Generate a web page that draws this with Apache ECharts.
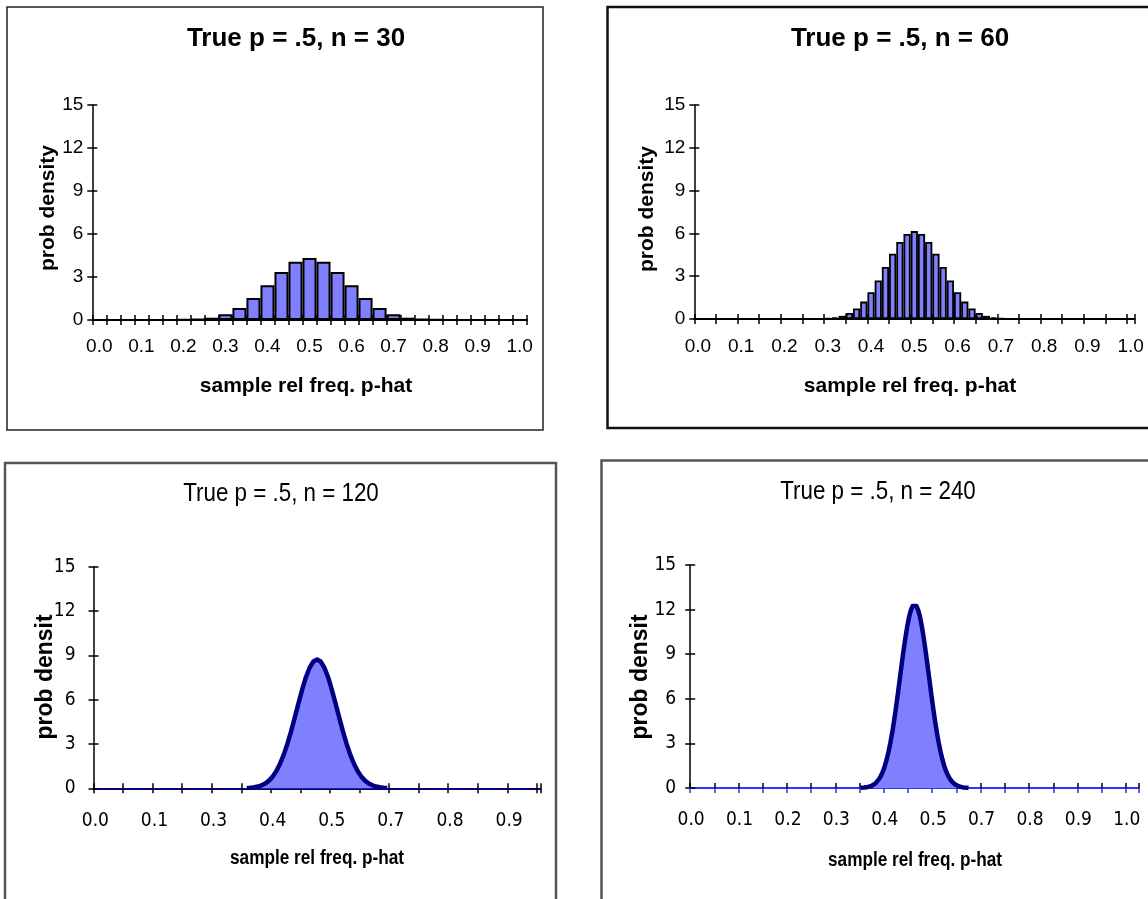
<!DOCTYPE html>
<html>
<head>
<meta charset="utf-8">
<title>Sampling distribution of p-hat</title>
<script src="https://cdn.jsdelivr.net/npm/echarts@6.0.0/dist/echarts.min.js"></script>
<style>
  html, body { margin: 0; padding: 0; background: #fff; }
  #main { width: 1148px; height: 899px; }
</style>
</head>
<body>
<div id="main"></div>
<script>
// prob density of p-hat (n * P(X = k))
const n30Density = [0, 0, 0, 0, 0, 0, 0.02, 0.06, 0.16, 0.40, 0.84, 1.53, 2.42, 3.35, 4.06, 4.33,
  4.06, 3.35, 2.42, 1.53, 0.84, 0.40, 0.16, 0.06, 0.02, 0, 0, 0, 0, 0, 0];

const n60Density = [0, 0, 0, 0, 0, 0, 0, 0, 0, 0, 0, 0, 0, 0, 0, 0,
  0.01, 0.02, 0.05, 0.11, 0.22, 0.42, 0.74, 1.22, 1.88, 2.70, 3.64, 4.58, 5.40, 5.96, 6.16,
  5.96, 5.40, 4.58, 3.64, 2.70, 1.88, 1.22, 0.74, 0.42, 0.22, 0.11, 0.05, 0.02, 0.01,
  0, 0, 0, 0, 0, 0, 0, 0, 0, 0, 0, 0, 0, 0, 0, 0];

// the two big samples are drawn as curves, only over the stretch where they leave the axis
const n120Start = 41;
const n120Density = [0.02, 0.04, 0.07, 0.12, 0.20, 0.33, 0.52, 0.79, 1.17, 1.66, 2.28, 3.02, 3.87,
  4.81, 5.77, 6.69, 7.52, 8.16, 8.58, 8.72, 8.58, 8.16, 7.52, 6.69, 5.77, 4.81, 3.87, 3.02, 2.28,
  1.66, 1.17, 0.79, 0.52, 0.33, 0.20, 0.12, 0.07, 0.04, 0.02];

const n240Start = 91;
const n240Density = [0.01, 0.02, 0.03, 0.04, 0.07, 0.10, 0.15, 0.22, 0.31, 0.44, 0.61, 0.83, 1.11,
  1.47, 1.90, 2.42, 3.03, 3.73, 4.52, 5.38, 6.30, 7.26, 8.22, 9.16, 10.03, 10.81, 11.46, 11.95, 12.25,
  12.35,
  12.25, 11.95, 11.46, 10.81, 10.03, 9.16, 8.22, 7.26, 6.30, 5.38, 4.52, 3.73, 3.03, 2.42, 1.90,
  1.47, 1.11, 0.83, 0.61, 0.44, 0.31, 0.22, 0.15, 0.10, 0.07, 0.04, 0.03, 0.02, 0.01];

// x tick labels as printed (Excel rounds k/n to one decimal)
const labels30 = ['0.0', '0.1', '0.2', '0.3', '0.4', '0.5', '0.6', '0.7', '0.8', '0.9', '1.0'];
const labels60 = ['0.0', '0.1', '0.2', '0.3', '0.4', '0.5', '0.6', '0.7', '0.8', '0.9', '1.0'];
const labels120 = ['0.0', '0.1', '0.3', '0.4', '0.5', '0.7', '0.8', '0.9'];
const labels240 = ['0.0', '0.1', '0.2', '0.3', '0.4', '0.5', '0.7', '0.8', '0.9', '1.0'];

const yMax = 15;
const yStep = 3;

const ARIAL = '"Liberation Sans", Arial, sans-serif';
const NARROW = '"Liberation Sans Narrow", "DejaVu Sans Condensed", sans-serif';

// k = 0..n for each panel
function counts(n) {
  return Array.from({ length: n + 1 }, (_, k) => String(k));
}

// curve data: '-' where the series is not drawn
function curveData(n, start, vals) {
  const out = [];
  for (let k = 0; k <= n; k++) {
    const i = k - start;
    out.push(i >= 0 && i < vals.length ? vals[i] : '-');
  }
  return out;
}

const panels = [
  {
    title: 'True p = .5, n = 30', kind: 'bar', n: 30, data: n30Density, labels: labels30,
    tickEvery: 1, labelEvery: 3, barBorder: 2,
    grid: { left: 92.3, top: 105, width: 434.4, height: 215 },
    box: { x: 7, y: 7, width: 536, height: 423, stroke: '#222', lineWidth: 1.5 },
    titlePos: [296, 39], xNamePos: [306, 386], yNamePos: [48, 208],
    titleFont: 'bold 26px ' + ARIAL, nameFont: 'bold 21px ' + ARIAL, yName: 'prob density',
    labelFamily: ARIAL, labelSize: 19, xMargin: 17, yMargin: 9,
    axisColor: '#000', tickColor: '#000'
  },
  {
    title: 'True p = .5, n = 60', kind: 'bar', n: 60, data: n60Density, labels: labels60,
    tickEvery: 3, labelEvery: 6, barBorder: 1.8,
    grid: { left: 694.3, top: 105, width: 440, height: 214 },
    box: { x: 607.5, y: 7, width: 560, height: 421, stroke: '#111', lineWidth: 2.5 },
    titlePos: [900, 39], xNamePos: [910, 386], yNamePos: [647, 209],
    titleFont: 'bold 26px ' + ARIAL, nameFont: 'bold 21px ' + ARIAL, yName: 'prob density',
    labelFamily: ARIAL, labelSize: 19, xMargin: 18, yMargin: 9,
    axisColor: '#000', tickColor: '#000'
  },
  {
    title: 'True p = .5, n = 120', kind: 'line', n: 120,
    data: curveData(120, n120Start, n120Density), labels: labels120,
    tickEvery: 8, labelEvery: 16,
    grid: { left: 93.5, top: 566.7, width: 447, height: 221.6 },
    box: { x: 5, y: 463, width: 551, height: 460, stroke: '#555', lineWidth: 2.5 },
    titlePos: [281, 494], xNamePos: [317, 858], yNamePos: [46, 677],
    titleFont: '26px ' + ARIAL, titleScale: 0.86,
    nameFont: 'bold 20px ' + ARIAL, nameScale: 0.86, yName: 'prob densit',
    yNameFont: 'bold 23px ' + ARIAL,
    labelFamily: NARROW, labelSize: 19, xMargin: 23, yMargin: 18,
    axisColor: '#000080', tickColor: '#000'
  },
  {
    title: 'True p = .5, n = 240', kind: 'line', n: 240,
    data: curveData(240, n240Start, n240Density), labels: labels240,
    tickEvery: 13, labelEvery: 26,
    grid: { left: 690.2, top: 565, width: 448.7, height: 223 },
    box: { x: 601.5, y: 460.5, width: 560, height: 460, stroke: '#555', lineWidth: 2.5 },
    titlePos: [878, 492], xNamePos: [915, 860], yNamePos: [641, 677],
    titleFont: '26px ' + ARIAL, titleScale: 0.86,
    nameFont: 'bold 20px ' + ARIAL, nameScale: 0.86, yName: 'prob densit',
    yNameFont: 'bold 23px ' + ARIAL,
    labelFamily: NARROW, labelSize: 19, xMargin: 23, yMargin: 14,
    axisColor: '#3333ff', tickColor: '#3333cc'
  }
];

const grids = [], xAxes = [], yAxes = [], series = [], graphics = [];
const hiddenLine = { show: true, onZero: false, lineStyle: { color: 'rgba(0,0,0,0)', width: 1 } };
const tickStyle = { color: '#000', width: 1.5 };

panels.forEach(function (p, i) {
  grids.push(Object.assign({ outerBoundsMode: 'none', containLabel: false }, p.grid));

  const cats = counts(p.n);
  // two axes per side: one with ticks outside, one pointing in -> Excel "cross" ticks
  xAxes.push({
    type: 'category', gridIndex: i, position: 'bottom', data: cats, boundaryGap: true,
    axisLine: { show: true, onZero: false, lineStyle: { color: p.axisColor, width: 2 } },
    axisTick: { show: true, interval: p.tickEvery - 1, length: 5, lineStyle: { color: p.tickColor, width: 1.5 } },
    axisLabel: {
      interval: p.labelEvery - 1, margin: p.xMargin, color: '#000',
      fontFamily: p.labelFamily, fontSize: p.labelSize,
      formatter: function (v, idx) {
        return idx % p.labelEvery === 0 ? p.labels[idx / p.labelEvery] : '';
      }
    },
    splitLine: { show: false }
  });
  xAxes.push({
    type: 'category', gridIndex: i, position: 'bottom', offset: 0, data: cats, boundaryGap: true,
    axisLine: hiddenLine,
    axisTick: { show: true, inside: true, interval: p.tickEvery - 1, length: 5, lineStyle: tickStyle },
    axisLabel: { show: false },
    splitLine: { show: false }
  });

  yAxes.push({
    type: 'value', gridIndex: i, position: 'left', min: 0, max: yMax, interval: yStep,
    axisLine: { show: true, onZero: false, lineStyle: { color: '#000', width: 1.5 } },
    axisTick: { show: true, length: 5, lineStyle: tickStyle },
    axisLabel: { margin: p.yMargin, color: '#000', fontFamily: p.labelFamily, fontSize: p.labelSize },
    splitLine: { show: false }
  });
  // right-hand axis pulled back onto the left edge: its outside ticks point into the plot
  yAxes.push({
    type: 'value', gridIndex: i, position: 'right', offset: -p.grid.width,
    min: 0, max: yMax, interval: yStep,
    axisLine: hiddenLine,
    axisTick: { show: true, length: 5, lineStyle: tickStyle },
    axisLabel: { show: false },
    splitLine: { show: false }
  });

  if (p.kind === 'bar') {
    series.push({
      type: 'bar', xAxisIndex: 2 * i, yAxisIndex: 2 * i, data: p.data,
      barCategoryGap: '0%', barGap: '0%',
      itemStyle: { color: '#8080ff', borderColor: '#000', borderWidth: p.barBorder },
      animation: false
    });
  } else {
    series.push({
      type: 'line', xAxisIndex: 2 * i, yAxisIndex: 2 * i, data: p.data,
      showSymbol: false, symbol: 'none',
      lineStyle: { color: '#000080', width: 4.5, join: 'round' },
      areaStyle: { color: '#8080ff', opacity: 1 },
      animation: false
    });
  }
  // empty series so the tick-only axes are kept alive
  series.push({ type: 'line', xAxisIndex: 2 * i + 1, yAxisIndex: 2 * i + 1, data: [], silent: true });

  // frame, title and axis titles
  graphics.push({
    type: 'rect', shape: { x: p.box.x, y: p.box.y, width: p.box.width, height: p.box.height },
    style: { fill: 'none', stroke: p.box.stroke, lineWidth: p.box.lineWidth }, silent: true
  });
  graphics.push(textEl(p.title, p.titlePos, p.titleFont, 0, p.titleScale));
  graphics.push(textEl('sample rel freq. p-hat', p.xNamePos, p.nameFont, 0, p.nameScale));
  graphics.push(textEl(p.yName, p.yNamePos, p.yNameFont || p.nameFont, Math.PI / 2));
});

function textEl(text, pos, font, rotation, scaleX) {
  return {
    type: 'text', x: pos[0], y: pos[1], rotation: rotation, scaleX: scaleX || 1, silent: true,
    style: {
      text: text, font: font, fill: '#000',
      align: 'center', verticalAlign: 'middle',
      textAlign: 'center', textVerticalAlign: 'middle'
    }
  };
}

const chart = echarts.init(document.getElementById('main'));
chart.setOption({
  backgroundColor: '#fff',
  animation: false,
  grid: grids,
  xAxis: xAxes,
  yAxis: yAxes,
  series: series,
  graphic: graphics
});
</script>
</body>
</html>
